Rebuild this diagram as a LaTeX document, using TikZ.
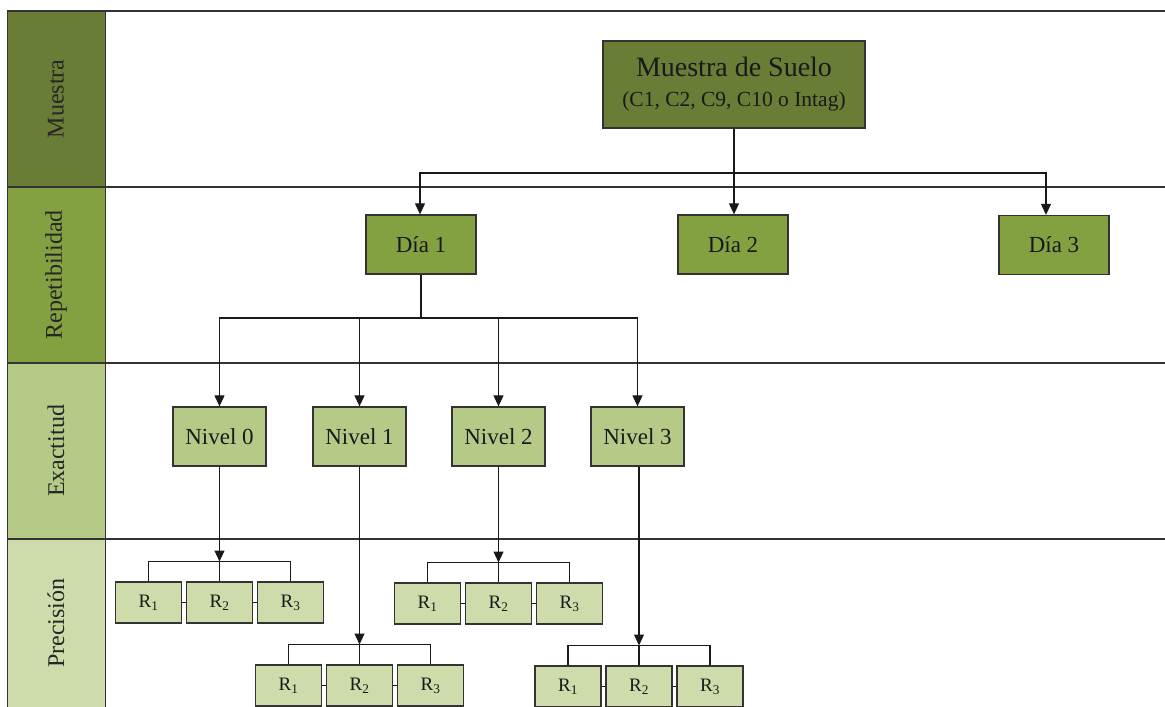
\documentclass[tikz,border=0pt]{standalone}
\usepackage{fontspec}
\setmainfont{Liberation Serif}
\usetikzlibrary{arrows.meta}
\definecolor{cMue}{HTML}{6A7D37}
\definecolor{cRep}{HTML}{84A141}
\definecolor{cExa}{HTML}{B6CA88}
\definecolor{cPre}{HTML}{CEDCAB}
\definecolor{cLine}{HTML}{333333}
\begin{document}
\begin{tikzpicture}[x=1pt,y=-1pt,
  box/.style={draw=cLine, line width=1.3pt, inner sep=0pt, text=black!90},
  dbox/.style={box, fill=cRep, minimum width=110pt, minimum height=59pt, font=\fontsize{23}{26}\selectfont},
  nbox/.style={box, fill=cExa, minimum width=93pt, minimum height=59pt, font=\fontsize{23}{26}\selectfont},
  rbox/.style={box, fill=cPre, minimum width=66pt, minimum height=41pt, font=\fontsize{19}{21}\selectfont},
  cell/.style={draw=cLine, line width=1pt},
  band/.style={draw=cLine, line width=1.5pt},
  lab/.style={rotate=90, font=\fontsize{24}{26}\selectfont, text=black!85},
  conn/.style={draw=black!90, line width=1.1pt},
  arr/.style={conn, -{Triangle[length=11pt,width=10pt]}}]
\useasboundingbox (0,0) rectangle (1165,707);

% row header column
\fill[cMue] (7,11) rectangle (105,187);
\fill[cRep] (7,187) rectangle (105,363);
\fill[cExa] (7,363) rectangle (105,539);
\fill[cPre] (7,539) rectangle (105,712);
\draw[cell] (7,11) -- (7,712);
\draw[cell] (105,11) -- (105,712);
\node[lab] (lm) at (56,99) {Muestra};
\node[lab] (lr) at (56,275) {Repetibilidad};
\node[lab] (le) at (56,451) {Exactitud};
\node[lab] (lp) at (56,623) {Precisión};

% band separators
\draw[band] (7,11) -- (1165,11);
\draw[band] (7,187) -- (1165,187);
\draw[band] (7,363) -- (1165,363);
\draw[band] (7,539) -- (1165,539);

% sample
\node[box, fill=cMue, minimum width=262pt, minimum height=87pt, align=center,
      font=\fontsize{28}{30}\selectfont] (sample) at (734,84.5)
  {Muestra de Suelo\\{\fontsize{21.5}{24}\selectfont (C1, C2, C9, C10 o Intag)}};

% days
\node[dbox] (day1) at (421,244.5) {Día 1};
\node[dbox] (day2) at (733,244.5) {Día 2};
\node[dbox] (day3) at (1054,245) {Día 3};

% levels
\node[nbox] (lev0) at (219.5,436.5) {Nivel 0};
\node[nbox] (lev1) at (359.5,436.5) {Nivel 1};
\node[nbox] (lev2) at (498.5,436.5) {Nivel 2};
\node[nbox] (lev3) at (637.5,436.5) {Nivel 3};

% replicates, three per level
\foreach \g/\cx/\cy in {ga/219.5/602.5, gb/359.5/685.5, gc/498.5/603.5, gd/639/686.5}{
  \node[rbox] (\g-r1) at (\cx-71,\cy) {R\textsubscript{1}};
  \node[rbox] (\g-r2) at (\cx,\cy) {R\textsubscript{2}};
  \node[rbox] (\g-r3) at (\cx+71,\cy) {R\textsubscript{3}};
  \draw[conn] (\g-r1.east) -- (\g-r2.west);
  \draw[conn] (\g-r2.east) -- (\g-r3.west);
  \coordinate (\g-j) at (\cx,\cy-41);
  \draw[conn] (\g-r1.north) |- (\g-j) -| (\g-r3.north);
  \draw[conn] (\g-j) -- (\g-r2.north);
}

% sample -> days
\coordinate (jm) at (734,173);
\draw[conn] (sample.south) -- (jm);
\draw[arr] (jm) -| ([xshift=-1pt]day1.north);
\draw[arr] (jm) -- (jm |- day2.north);
\draw[arr] (jm) -| ([xshift=-8pt]day3.north);

% day 1 -> levels
\coordinate (jd) at (421,318);
\draw[conn] (day1.south) -- (jd);
\draw[arr] (jd) -| (lev0.north);
\draw[arr] (jd) -| (lev1.north);
\draw[arr] (jd) -| (lev2.north);
\draw[arr] (jd) -| (lev3.north);

% levels -> replicate groups
\draw[arr] (lev0.south) -- (ga-j);
\draw[arr] (lev1.south) -- (gb-j);
\draw[arr] (lev2.south) -- (gc-j);
\draw[arr] ([xshift=1.5pt]lev3.south) -- (gd-j);
\end{tikzpicture}
\end{document}
